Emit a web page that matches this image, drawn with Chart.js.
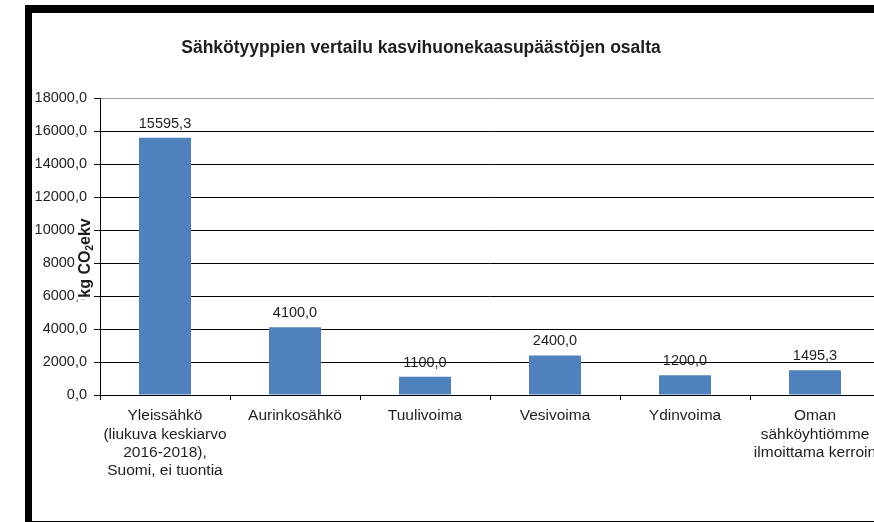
<!DOCTYPE html>
<html>
<head>
<meta charset="utf-8">
<script src="https://cdn.jsdelivr.net/npm/chart.js@4/dist/chart.umd.min.js"></script>
<style>
  body { margin: 0; background: #fff; overflow: hidden; }
  #frame { position: absolute; left: 25px; top: 5px; width: 900px; height: 508px;
    border-left: 7px solid #000; border-top: 8px solid #000; border-bottom: 2px solid #000; }
  #wrap { position: absolute; left: 0; top: 0; width: 860px; height: 508px; }
</style>
</head>
<body>
<div id="frame"><div id="wrap"><canvas id="myChart"></canvas></div></div>
<script>
var chartTitle = 'Sähkötyyppien vertailu kasvihuonekaasupäästöjen osalta';
var categories = [
	['Yleissähkö', '(liukuva keskiarvo', '2016-2018),', 'Suomi, ei tuontia'],
	'Aurinkosähkö',
	'Tuulivoima',
	'Vesivoima',
	'Ydinvoima',
	['Oman', 'sähköyhtiömme', 'ilmoittama kerroin']
];
var emissions = [15595.3, 4100.0, 1100.0, 2400.0, 1200.0, 1495.3];
var yTicks = { min: 0, max: 18000, step: 2000 };

var FONT = "'Liberation Sans', Arial, sans-serif";
var TEXT = '#1e1e1e';

function fiNum(v) {
	return Number(v).toFixed(1).replace('.', ',');
}

// value labels above bars
var barLabels = {
	id: 'barLabels',
	afterDatasetsDraw: function(chart) {
		var c = chart.ctx;
		var meta = chart.getDatasetMeta(0);
		c.save();
		c.font = '14.5px ' + FONT;
		c.fillStyle = TEXT;
		c.textAlign = 'center';
		c.textBaseline = 'alphabetic';
		meta.data.forEach(function(bar, i) {
			c.fillText(fiNum(emissions[i]), bar.x, bar.y - 10);
		});
		c.restore();
	}
};

// chart title and y axis title (drawn over the tick labels, like the original)
var titles = {
	id: 'titles',
	afterDraw: function(chart) {
		var c = chart.ctx;
		var a = chart.chartArea;
		c.save();
		c.font = 'bold 17.5px ' + FONT;
		c.fillStyle = TEXT;
		c.textAlign = 'center';
		c.textBaseline = 'middle';
		c.fillText(chartTitle, 389, 35);
		c.restore();

		c.save();
		c.translate(a.left - 14, 245);
		c.rotate(-Math.PI / 2);
		var big = 'bold 16px ' + FONT, small = 'bold 10px ' + FONT;
		c.font = big;
		var w1 = c.measureText('kg CO').width;
		c.font = small;
		var w2 = c.measureText('2').width;
		c.font = big;
		var w3 = c.measureText('ekv').width;
		var total = w1 + w2 + w3;
		c.fillStyle = '#fff';
		c.fillRect(-total / 2 - 2, -10, total + 4, 18);
		c.fillStyle = TEXT;
		c.textBaseline = 'middle';
		c.textAlign = 'left';
		var x = -total / 2;
		c.fillText('kg CO', x, 0);
		c.font = small;
		c.fillText('2', x + w1, 4);
		c.font = big;
		c.fillText('ekv', x + w1 + w2, 0);
		c.restore();
	}
};

var ctx = document.getElementById('myChart').getContext('2d');

var chart = new Chart(ctx, {
	type: 'bar',
	data: {
		labels: categories,
		datasets: [{
			data: emissions,
			backgroundColor: '#4F81BD',
			barPercentage: 0.4,
			categoryPercentage: 1.0
		}]
	},
	options: {
		responsive: true,
		maintainAspectRatio: false,
		devicePixelRatio: 1,
		animation: false,
		layout: { padding: { left: 0, right: 12, top: 85, bottom: 0 } },
		plugins: {
			legend: { display: false },
			tooltip: { enabled: false },
			title: { display: false }
		},
		scales: {
			x: {
				offset: true,
				grid: { display: true, drawOnChartArea: false, drawTicks: true, tickLength: 5, tickColor: '#000', offset: true },
				border: { color: '#000', width: 1 },
				ticks: {
					color: TEXT,
					font: { family: FONT, size: 15.5, lineHeight: 1.18 },
					maxRotation: 0,
					autoSkip: false,
					padding: 7
				},
				afterFit: function(s) { s.height = 126; }
			},
			y: {
				min: yTicks.min,
				max: yTicks.max,
				grid: {
					color: function(c) { return c.tick && c.tick.value === yTicks.max ? '#a0a0a0' : '#000'; },
					tickColor: '#000',
					tickLength: 6
				},
				border: { color: '#000', width: 1 },
				ticks: {
					stepSize: yTicks.step,
					color: TEXT,
					font: { family: FONT, size: 14.5 },
					padding: 7,
					callback: function(v) { return fiNum(v); }
				},
				afterFit: function(s) { s.width = 68; }
			}
		}
	},
	plugins: [barLabels, titles]
});
</script>
</body>
</html>
